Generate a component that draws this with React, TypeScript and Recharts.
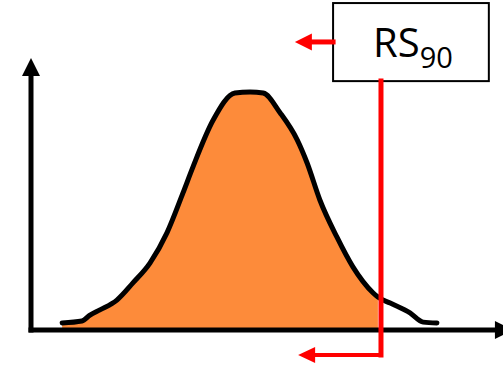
import React from 'react';
import { ComposedChart, Area, Line, XAxis, YAxis, ReferenceLine, ReferenceArea } from 'recharts';

// sample positions along the distribution and the curve height at each one
const xs = [6.6, 10.8, 12.5, 14.6, 18.2, 21.6, 25.2, 28.8, 32.2, 34.3, 38.6, 43.2, 46.4, 49.2, 52.8, 56.4, 58.5, 61.2, 64.8, 68.2, 72.5, 73.5, 76.1, 80.3, 83.1, 86.0];
const density = [2.6, 3.3, 5.5, 7.4, 11.0, 17.3, 24.6, 35.7, 50.4, 59.9, 77.2, 87.1, 87.5, 87.1, 79.8, 69.9, 61.4, 47.8, 34.2, 23.2, 13.6, 12.1, 9.9, 6.3, 2.9, 2.6];

// RS90 cut-off: area shaded up to here
const cutoff = 73.5;
const markerX = 74.15;
const boxLabel = 'RS';
const boxSub = '90';

const data = xs.map((x, i) => ({
  x,
  curve: density[i],
  shaded: x <= cutoff ? density[i] : null,
}));

const ORANGE = '#FD8B3A';
const RED = '#FF0000';

// line segment that ends in a solid triangular head
const arrow = (color: string, width: number, headLen: number, headHalf: number) => (p: any) => {
  const { x1, y1, x2, y2 } = p;
  const dx = x2 - x1;
  const dy = y2 - y1;
  const len = Math.hypot(dx, dy) || 1;
  const ux = dx / len;
  const uy = dy / len;
  const bx = x2 - ux * headLen;
  const by = y2 - uy * headLen;
  const px = -uy * headHalf;
  const py = ux * headHalf;
  return (
    <g>
      <line x1={x1} y1={y1} x2={bx + ux} y2={by + uy} stroke={color} strokeWidth={width} strokeLinecap="square" />
      <polygon points={`${x2},${y2} ${bx + px},${by + py} ${bx - px},${by - py}`} fill={color} />
    </g>
  );
};

// outline and text of the label box
const BoxText = (props: any) => {
  const { x, y, width, height } = props.viewBox;
  return (
    <g>
      <rect x={x} y={y} width={width} height={height} fill="none" stroke="#000" strokeWidth={2} />
      <text x={x + 40} y={y + 54} fontFamily="'Open Sans', sans-serif" fill="#000">
        <tspan fontSize={40}>{boxLabel}</tspan>
        <tspan fontSize={29} dy={11}>{boxSub}</tspan>
      </text>
    </g>
  );
};

export default function App() {
  return (
    <div style={{ position: 'absolute', left: 0, top: 0, background: '#fff' }}>
      <ComposedChart width={503} height={367} data={data} margin={{ top: 58, right: 0, bottom: 37, left: 31 }}>
        <XAxis dataKey="x" type="number" domain={[0, 100]} hide />
        <YAxis type="number" domain={[0, 100]} hide />
        <Area type="monotone" dataKey="shaded" stroke="none" fill={ORANGE} fillOpacity={1} isAnimationActive={false} />
        <Line type="monotone" dataKey="curve" stroke="#000" strokeWidth={5} dot={false} strokeLinejoin="round" strokeLinecap="round" isAnimationActive={false} />

        {/* axes with arrow heads */}
        <ReferenceLine segment={[{ x: 0, y: 0 }, { x: 0, y: 100 }]} ifOverflow="visible" shape={arrow('#000', 5, 18, 9)} />
        <ReferenceLine segment={[{ x: 0, y: 0 }, { x: 102.1, y: 0 }]} ifOverflow="visible" shape={arrow('#000', 5, 18, 9)} />

        {/* RS90 marker */}
        <ReferenceLine segment={[{ x: markerX, y: 91.5 }, { x: markerX, y: -9.2 }]} ifOverflow="visible" stroke={RED} strokeWidth={5} strokeLinecap="square" />
        <ReferenceLine segment={[{ x: markerX, y: -9.2 }, { x: 56.6, y: -9.2 }]} ifOverflow="visible" shape={arrow(RED, 4, 17, 8)} />
        <ReferenceLine segment={[{ x: 64.0, y: 105.9 }, { x: 55.9, y: 105.9 }]} ifOverflow="visible" shape={arrow(RED, 5, 17, 8.5)} />
        <ReferenceArea x1={64.0} x2={97.0} y1={91.5} y2={120.2} ifOverflow="visible" fill="#fff" fillOpacity={1} stroke="none" label={BoxText} />
      </ComposedChart>
    </div>
  );
}
